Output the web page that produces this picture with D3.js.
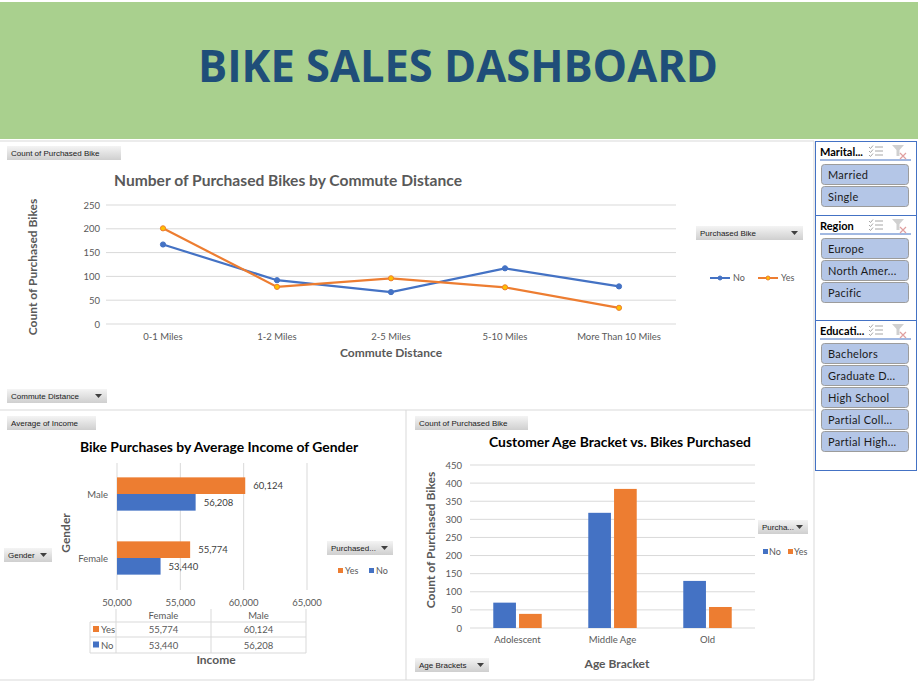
<!DOCTYPE html>
<html>
<head>
<meta charset="utf-8">
<script src="https://cdn.jsdelivr.net/npm/d3@7"></script>
<style>
  body { margin: 0; background: #fff; }
  text { font-family: Lato, "Open Sans", sans-serif; }
</style>
</head>
<body>
<div id="dash"></div>
<script>
const width = 918;
const height = 684;

// Commute distance line chart data
const distances = ['0-1 Miles', '1-2 Miles', '2-5 Miles', '5-10 Miles', 'More Than 10 Miles'];
const distanceNo = [167, 92, 67, 117, 79];
const distanceYes = [201, 78, 96, 77, 34];
const distanceTicks = [0, 50, 100, 150, 200, 250];

// Average income by gender
const genders = ['Male', 'Female'];
const incomeYes = [60124, 55774];
const incomeNo = [56208, 53440];
const incomeTicks = [50000, 55000, 60000, 65000];

// Age bracket counts
const ageBrackets = ['Adolescent', 'Middle Age', 'Old'];
const ageNo = [70, 318, 130];
const ageYes = [39, 384, 58];
const ageTicks = [0, 50, 100, 150, 200, 250, 300, 350, 400, 450];

// Slicers
const maritalItems = ['Married', 'Single'];
const regionItems = ['Europe', 'North Amer...', 'Pacific'];
const educationItems = ['Bachelors', 'Graduate D...', 'High School', 'Partial Coll...', 'Partial High...'];

const blue = '#4472c4';
const orange = '#ed7d31';
const grid = '#d9d9d9';
const axisText = '#595959';
const fmt = d3.format(',');

const svg = d3.select('#dash')
  .append('svg')
  .attr('width', width)
  .attr('height', height);

const defs = svg.append('defs');
const grad = defs.append('linearGradient')
  .attr('id', 'btn')
  .attr('x1', 0).attr('y1', 0).attr('x2', 0).attr('y2', 1);
grad.append('stop').attr('offset', '0%').attr('stop-color', '#f4f4f4');
grad.append('stop').attr('offset', '100%').attr('stop-color', '#cfcfcf');

// Header band
svg.append('rect')
  .attr('x', 0).attr('y', 2)
  .attr('width', width).attr('height', 137)
  .attr('fill', '#a9d08e');
svg.append('text')
  .attr('x', 458).attr('y', 82)
  .attr('text-anchor', 'middle')
  .attr('font-size', 45)
  .attr('font-weight', 'bold')
  .attr('fill', '#1f4e79')
  .attr('textLength', 520)
  .attr('lengthAdjust', 'spacingAndGlyphs')
  .style('font-family', '"Open Sans", sans-serif')
  .text('BIKE SALES DASHBOARD');

// Panel borders
const frame = svg.append('g').attr('stroke', grid).attr('fill', 'none');
frame.append('line').attr('x1', 0).attr('x2', 814).attr('y1', 141).attr('y2', 141);
frame.append('line').attr('x1', 0).attr('x2', 814).attr('y1', 410).attr('y2', 410);
frame.append('line').attr('x1', 406).attr('x2', 406).attr('y1', 410).attr('y2', 680);
frame.append('line').attr('x1', 814).attr('x2', 814).attr('y1', 141).attr('y2', 680);
frame.append('line').attr('x1', 0).attr('x2', 814).attr('y1', 680).attr('y2', 680);

// Grey pivot field button
function pivotButton(x, y, w, label, arrow) {
  const g = svg.append('g').attr('transform', `translate(${x},${y})`);
  g.append('rect').attr('width', w).attr('height', 14).attr('fill', 'url(#btn)');
  g.append('text')
    .attr('x', 4).attr('y', 10)
    .attr('font-size', 8)
    .attr('fill', '#1a1a1a')
    .style('font-family', '"Liberation Sans", Arial, sans-serif')
    .text(label);
  if (arrow) {
    g.append('path')
      .attr('d', `M${w - 12},5 L${w - 5},5 L${w - 8.5},9 Z`)
      .attr('fill', '#404040');
  }
}

function chartTitle(x, y, label, color, size) {
  svg.append('text')
    .attr('x', x).attr('y', y)
    .attr('text-anchor', 'middle')
    .attr('font-size', size)
    .attr('font-weight', 'bold')
    .attr('fill', color)
    .text(label);
}

function axisTitle(x, y, label, rotate) {
  svg.append('text')
    .attr('transform', `translate(${x},${y})` + (rotate ? ' rotate(-90)' : ''))
    .attr('text-anchor', 'middle')
    .attr('font-size', 12)
    .attr('font-weight', 'bold')
    .attr('fill', axisText)
    .text(label);
}

// ---------- Line chart: commute distance ----------
const lx = d3.scalePoint().domain(distances).range([106, 676]).padding(0.5);
const ly = d3.scaleLinear().domain([0, 250]).range([324, 205]);

const lineG = svg.append('g');
lineG.selectAll('.grid')
  .data(distanceTicks)
  .enter()
  .append('line')
  .attr('x1', 106).attr('x2', 676)
  .attr('y1', d => ly(d)).attr('y2', d => ly(d))
  .attr('stroke', grid);

lineG.selectAll('.ytick')
  .data(distanceTicks)
  .enter()
  .append('text')
  .attr('x', 100).attr('y', d => ly(d) + 3.5)
  .attr('text-anchor', 'end')
  .attr('font-size', 9.5)
  .attr('fill', axisText)
  .text(d => d);

lineG.selectAll('.xtick')
  .data(distances)
  .enter()
  .append('text')
  .attr('x', d => lx(d)).attr('y', 340)
  .attr('text-anchor', 'middle')
  .attr('font-size', 9.5)
  .attr('fill', axisText)
  .text(d => d);

const lineSeries = [
  { name: 'No', values: distanceNo, color: blue, fill: blue },
  { name: 'Yes', values: distanceYes, color: orange, fill: '#ffc000' }
];
const line = d3.line().x((d, i) => lx(distances[i])).y(d => ly(d));

lineSeries.forEach(s => {
  lineG.append('path')
    .attr('d', line(s.values))
    .attr('fill', 'none')
    .attr('stroke', s.color)
    .attr('stroke-width', 2.2);
  lineG.selectAll(null)
    .data(s.values)
    .enter()
    .append('circle')
    .attr('cx', (d, i) => lx(distances[i]))
    .attr('cy', d => ly(d))
    .attr('r', 2.6)
    .attr('fill', s.fill)
    .attr('stroke', s.color)
    .attr('stroke-width', 1);
});

chartTitle(288, 186, 'Number of Purchased Bikes by Commute Distance', axisText, 15.6);
axisTitle(37, 267, 'Count of Purchased Bikes', true);
axisTitle(391, 357, 'Commute Distance', false);

pivotButton(7, 146, 114, 'Count  of  Purchased  Bike', false);
pivotButton(7, 389, 100, 'Commute Distance', true);
pivotButton(696, 226, 107, 'Purchased  Bike', true);

// line legend
lineSeries.forEach((s, i) => {
  const ox = 710 + i * 48;
  lineG.append('line')
    .attr('x1', ox).attr('x2', ox + 20)
    .attr('y1', 278).attr('y2', 278)
    .attr('stroke', s.color).attr('stroke-width', 2);
  lineG.append('circle')
    .attr('cx', ox + 10).attr('cy', 278).attr('r', 2)
    .attr('fill', s.fill).attr('stroke', s.color);
  lineG.append('text')
    .attr('x', ox + 23).attr('y', 281)
    .attr('font-size', 9)
    .attr('fill', axisText)
    .text(s.name);
});

// ---------- Horizontal bars: income by gender ----------
const ix = d3.scaleLinear().domain([50000, 65000]).range([117, 307]);
const iy = d3.scaleBand().domain(genders).range([462, 590]).paddingInner(0.48).paddingOuter(0.24);
const iSub = d3.scaleBand().domain(['Yes', 'No']).range([0, iy.bandwidth()]);

const incG = svg.append('g');
incG.selectAll('.grid')
  .data(incomeTicks)
  .enter()
  .append('line')
  .attr('x1', d => ix(d)).attr('x2', d => ix(d))
  .attr('y1', 463).attr('y2', 590)
  .attr('stroke', grid);

incG.selectAll('.xtick')
  .data(incomeTicks)
  .enter()
  .append('text')
  .attr('x', d => ix(d)).attr('y', 606)
  .attr('text-anchor', 'middle')
  .attr('font-size', 9.5)
  .attr('fill', axisText)
  .text(d => fmt(d));

incG.selectAll('.ytick')
  .data(genders)
  .enter()
  .append('text')
  .attr('x', 108).attr('y', d => iy(d) + iy.bandwidth() / 2 + 3.5)
  .attr('text-anchor', 'end')
  .attr('font-size', 9.5)
  .attr('fill', axisText)
  .text(d => d);

const incSeries = [
  { name: 'Yes', values: incomeYes, color: orange },
  { name: 'No', values: incomeNo, color: blue }
];
incSeries.forEach(s => {
  incG.selectAll(null)
    .data(s.values)
    .enter()
    .append('rect')
    .attr('x', ix(50000))
    .attr('y', (d, i) => iy(genders[i]) + iSub(s.name))
    .attr('width', d => ix(d) - ix(50000))
    .attr('height', iSub.bandwidth())
    .attr('fill', s.color);
  incG.selectAll(null)
    .data(s.values)
    .enter()
    .append('text')
    .attr('x', d => ix(d) + 8)
    .attr('y', (d, i) => iy(genders[i]) + iSub(s.name) + iSub.bandwidth() / 2 + 3.5)
    .attr('font-size', 9.5)
    .attr('fill', '#404040')
    .text(d => fmt(d));
});

// data table under bar chart
const tableCols = ['Female', 'Male'];
const colX = d3.scaleBand().domain(tableCols).range([116, 306]);
const tbl = svg.append('g').attr('stroke', grid).attr('fill', 'none');
[116, 211, 306].forEach(x => {
  tbl.append('line').attr('x1', x).attr('x2', x).attr('y1', 609).attr('y2', 653);
});
tbl.append('line').attr('x1', 90).attr('x2', 90).attr('y1', 622).attr('y2', 653);
[622, 637, 653].forEach(y => {
  tbl.append('line').attr('x1', 90).attr('x2', 306).attr('y1', y).attr('y2', y);
});
tableCols.forEach(c => {
  incG.append('text')
    .attr('x', colX(c) + colX.bandwidth() / 2).attr('y', 619)
    .attr('text-anchor', 'middle')
    .attr('font-size', 9.5)
    .attr('fill', axisText)
    .text(c);
});
incSeries.forEach((s, r) => {
  const rowY = 633 + r * 15.5;
  incG.append('rect')
    .attr('x', 93).attr('y', rowY - 7)
    .attr('width', 6).attr('height', 6)
    .attr('fill', s.color);
  incG.append('text')
    .attr('x', 101).attr('y', rowY)
    .attr('font-size', 9.5)
    .attr('fill', axisText)
    .text(s.name);
  tableCols.forEach(c => {
    const gi = genders.indexOf(c);
    incG.append('text')
      .attr('x', colX(c) + colX.bandwidth() / 2).attr('y', rowY)
      .attr('text-anchor', 'middle')
      .attr('font-size', 9.5)
      .attr('fill', axisText)
      .text(fmt(s.values[gi]));
  });
});

chartTitle(219, 452, 'Bike Purchases by Average Income of Gender', '#000', 13.9);
axisTitle(70, 533, 'Gender', true);
axisTitle(216, 664, 'Income', false);

pivotButton(7, 416, 89, 'Average  of  Income', false);
pivotButton(4, 548, 48, 'Gender', true);
pivotButton(327, 541, 66, 'Purchased...', true);

incSeries.forEach((s, i) => {
  const ox = 338 + i * 31;
  incG.append('rect')
    .attr('x', ox).attr('y', 568)
    .attr('width', 5).attr('height', 5)
    .attr('fill', s.color);
  incG.append('text')
    .attr('x', ox + 7).attr('y', 574)
    .attr('font-size', 9)
    .attr('fill', axisText)
    .text(s.name);
});

// ---------- Column chart: age brackets ----------
const ax = d3.scaleBand().domain(ageBrackets).range([470, 755]).paddingInner(0.49).paddingOuter(0.245);
const aSub = d3.scaleBand().domain(['No', 'Yes']).range([0, ax.bandwidth()]).paddingInner(0.12);
const ay = d3.scaleLinear().domain([0, 450]).range([628, 465]);

const ageG = svg.append('g');
ageG.selectAll('.grid')
  .data(ageTicks)
  .enter()
  .append('line')
  .attr('x1', 470).attr('x2', 755)
  .attr('y1', d => ay(d)).attr('y2', d => ay(d))
  .attr('stroke', grid);

ageG.selectAll('.ytick')
  .data(ageTicks)
  .enter()
  .append('text')
  .attr('x', 462).attr('y', d => ay(d) + 3.5)
  .attr('text-anchor', 'end')
  .attr('font-size', 9.5)
  .attr('fill', axisText)
  .text(d => d);

ageG.selectAll('.xtick')
  .data(ageBrackets)
  .enter()
  .append('text')
  .attr('x', d => ax(d) + ax.bandwidth() / 2).attr('y', 643)
  .attr('text-anchor', 'middle')
  .attr('font-size', 9.5)
  .attr('fill', axisText)
  .text(d => d);

const ageSeries = [
  { name: 'No', values: ageNo, color: blue },
  { name: 'Yes', values: ageYes, color: orange }
];
ageSeries.forEach(s => {
  ageG.selectAll(null)
    .data(s.values)
    .enter()
    .append('rect')
    .attr('x', (d, i) => ax(ageBrackets[i]) + aSub(s.name))
    .attr('y', d => ay(d))
    .attr('width', aSub.bandwidth())
    .attr('height', d => ay(0) - ay(d))
    .attr('fill', s.color);
});

chartTitle(620, 447, 'Customer Age Bracket vs. Bikes Purchased', '#000', 13.9);
axisTitle(435, 540, 'Count of Purchased Bikes', true);
axisTitle(617, 668, 'Age Bracket', false);

pivotButton(415, 416, 113, 'Count  of  Purchased  Bike', false);
pivotButton(415, 658, 74, 'Age Brackets', true);
pivotButton(758, 520, 50, 'Purcha...', true);

ageSeries.forEach((s, i) => {
  const ox = 763 + i * 25;
  ageG.append('rect')
    .attr('x', ox).attr('y', 549)
    .attr('width', 5).attr('height', 5)
    .attr('fill', s.color);
  ageG.append('text')
    .attr('x', ox + 6).attr('y', 555)
    .attr('font-size', 9)
    .attr('fill', axisText)
    .text(s.name);
});

// ---------- Slicers ----------
function slicer(y, h, title, items) {
  const g = svg.append('g').attr('transform', `translate(815,${y})`);
  g.append('rect')
    .attr('x', 0.5).attr('y', 0.5)
    .attr('width', 101).attr('height', h)
    .attr('fill', '#fff')
    .attr('stroke', blue);
  g.append('text')
    .attr('x', 5).attr('y', 15)
    .attr('font-size', 11)
    .attr('font-weight', 'bold')
    .attr('fill', '#000')
    .text(title);
  g.append('line')
    .attr('x1', 5).attr('x2', 96)
    .attr('y1', 19).attr('y2', 19)
    .attr('stroke', blue);
  // multi-select icon
  const ic = g.append('g').attr('stroke', '#a6a6a6').attr('fill', 'none').attr('stroke-width', 1);
  [6, 10, 14].forEach(yy => {
    ic.append('path').attr('d', `M54,${yy} l1.5,1.5 l2.5,-3`);
    ic.append('line').attr('x1', 60).attr('x2', 68).attr('y1', yy).attr('y2', yy);
  });
  // clear filter icon
  g.append('path')
    .attr('d', 'M77,4 L89,4 L84.5,9 L84.5,15 L81.5,15 L81.5,9 Z')
    .attr('fill', '#d0d0d0');
  g.append('path')
    .attr('d', 'M85,12 L91,18 M91,12 L85,18')
    .attr('stroke', '#e0a0a0')
    .attr('stroke-width', 1.2);

  const by = d3.scaleBand().domain(items).range([24, 24 + items.length * 22]);
  g.selectAll('.item')
    .data(items)
    .enter()
    .append('rect')
    .attr('x', 6.5).attr('y', d => by(d) - 0.5)
    .attr('width', 87).attr('height', 20)
    .attr('rx', 3)
    .attr('fill', '#b4c6e7')
    .attr('stroke', '#9c9c9c');
  g.selectAll('.label')
    .data(items)
    .enter()
    .append('text')
    .attr('x', 13).attr('y', d => by(d) + 13.5)
    .attr('font-size', 11)
    .attr('fill', '#1a1a1a')
    .attr('letter-spacing', 0.3)
    .text(d => d);
}

slicer(141, 74, 'Marital...', maritalItems);
slicer(215, 105, 'Region', regionItems);
slicer(320, 150, 'Educati...', educationItems);
</script>
</body>
</html>
